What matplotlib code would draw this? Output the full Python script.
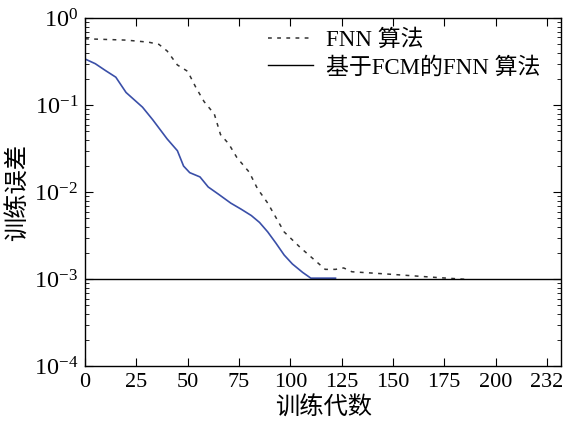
import numpy as np
import matplotlib
matplotlib.use('Agg')
from matplotlib import pyplot as plt
from matplotlib.ticker import LogFormatterMathtext, LogLocator, NullFormatter

plt.rcParams['font.family'] = ['Liberation Serif', 'Noto Sans CJK SC']
plt.rcParams['mathtext.fontset'] = 'stix'

# FNN curve (dashed)
fnn_epochs = [0, 10, 20, 31, 36, 40, 45, 50, 54, 58, 63, 66, 70, 74, 80, 84, 89,
              97, 105, 114, 117, 122, 126, 130, 147, 171, 185]
fnn_err = [0.58, 0.57, 0.56, 0.53, 0.5, 0.42, 0.29, 0.245, 0.16, 0.11, 0.079, 0.046,
           0.036, 0.025, 0.017, 0.011, 0.0075, 0.0035, 0.0023, 0.0015, 0.0013, 0.0013,
           0.00135, 0.00122, 0.00115, 0.00105, 0.001]

# FCM based FNN curve (blue)
fcm_epochs = [0, 5, 10, 15, 20, 28, 33, 40, 45, 48, 51, 56, 60, 65, 71, 76, 81, 85,
              89, 93, 97, 101, 106, 110, 122]
fcm_err = [0.34, 0.3, 0.25, 0.21, 0.14, 0.095, 0.068, 0.041, 0.03, 0.02, 0.0168, 0.015,
           0.0115, 0.0095, 0.0075, 0.0064, 0.0054, 0.0045, 0.0035, 0.0026, 0.0019,
           0.0015, 0.0012, 0.00103, 0.00103]

goal = 1e-3
# the last tick sits at 225 but is labelled 232 in the original
xtick_pos = [0, 25, 50, 75, 100, 125, 150, 175, 200, 225]
xtick_labels = ['0', '25', '50', '75', '100', '125', '150', '175', '200', '232']

fig = plt.figure(figsize=(5.63, 4.23), dpi=100)
ax = fig.add_axes([0.151, 0.134, 0.846, 0.823])

dash = (0, (2.5, 3.5))
ax.plot(fnn_epochs, fnn_err, color='#333333', linestyle=dash, linewidth=1.1)
ax.plot(fcm_epochs, fcm_err, color='#3a4fa8', linewidth=1.2)
ax.axhline(goal, color='black', linewidth=1.0)

# legend handles drawn in black like the original
h1, = ax.plot([], [], color='#333333', linestyle=dash, linewidth=1.1)
h2, = ax.plot([], [], color='black', linewidth=1.0)
ax.legend([h1, h2], ['FNN 算法', '基于FCM的FNN 算法'], loc='upper right',
          bbox_to_anchor=(0.98, 1.0), frameon=False,
          fontsize=16.5, handlelength=2.0, borderaxespad=0.1, labelspacing=0.25,
          handletextpad=0.55)

ax.set_yscale('log')
ax.set_ylim(1e-4, 1)
ax.set_xlim(0, 232)
ax.set_xticks(xtick_pos)
ax.set_xticklabels(xtick_labels)
ax.yaxis.set_major_locator(LogLocator(base=10, numticks=10))
ax.yaxis.set_major_formatter(LogFormatterMathtext())
ax.yaxis.set_minor_locator(LogLocator(base=10, subs=np.arange(2, 10), numticks=20))
ax.yaxis.set_minor_formatter(NullFormatter())

ax.tick_params(which='both', direction='in', top=True, right=True)
ax.tick_params(which='major', length=6, width=0.8)
ax.tick_params(which='minor', length=3, width=0.6)
ax.tick_params(axis='x', labelsize=16, pad=5)
ax.tick_params(axis='y', labelsize=17.5, pad=5)

ax.set_xlabel('训练代数', fontsize=17.5, labelpad=3, fontweight='light')
ax.set_ylabel('训练误差', fontsize=17.5, labelpad=3, fontweight='light')
for s in ax.spines.values():
    s.set_linewidth(1.0)

fig.savefig('out.png', dpi=100)
